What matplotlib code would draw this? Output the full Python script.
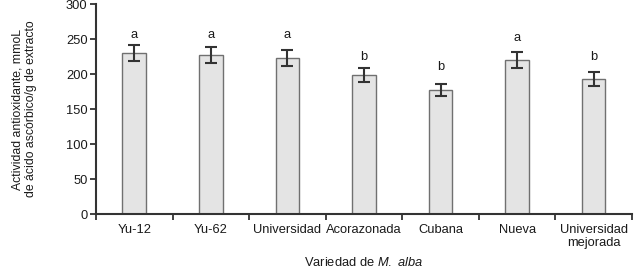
import matplotlib
matplotlib.use('Agg')
import matplotlib.pyplot as plt
import numpy as np

# Data
varieties = ['Yu-12', 'Yu-62', 'Universidad', 'Acorazonada', 'Cubana', 'Nueva',
             'Universidad\nmejorada']
activity = [230, 227, 223, 199, 177, 220, 193]
error = [12, 11, 11, 10, 9, 11, 10]
letters = ['a', 'a', 'a', 'b', 'b', 'a', 'b']
letter_y = [256, 256, 256, 225, 210, 252, 225]

plt.rcParams['font.family'] = ['Liberation Sans', 'DejaVu Sans']
plt.rcParams['mathtext.fontset'] = 'custom'
plt.rcParams['mathtext.rm'] = 'Liberation Sans'
plt.rcParams['mathtext.it'] = 'Liberation Sans:italic'

fs = 9.3
tc = '#1a1a1a'

fig = plt.figure(figsize=(6.37, 2.70), dpi=100)
ax = fig.add_axes([0.1507, 0.2074, 0.8413, 0.7776])

x = np.arange(len(varieties))
ax.bar(x, activity, width=0.31, color='#e4e4e4', edgecolor='#707070', linewidth=1.0,
       zorder=2)
ax.errorbar(x, activity, yerr=error, fmt='none', ecolor='#333333', elinewidth=1.5,
            capsize=4, capthick=1.5, zorder=3)

# Significance letters
for xi, ly, let in zip(x, letter_y, letters):
    ax.text(xi, ly, let, ha='center', va='center', fontsize=fs, color=tc)

ax.set_xlim(-0.5, len(varieties) - 0.5)
ax.set_ylim(0, 300)
ax.set_yticks(np.arange(0, 301, 50))

# Category labels centred, ticks at the boundaries
ax.set_xticks(x)
ax.set_xticklabels(varieties, fontsize=fs, color=tc, linespacing=1.1)
ax.tick_params(axis='x', which='major', length=0, pad=7)
ax.set_xticks(np.arange(-0.5, len(varieties)), minor=True)
ax.tick_params(axis='x', which='minor', length=4, width=1.3, color='#333333',
               direction='out')
ax.tick_params(axis='y', length=4, width=1.3, color='#333333', labelsize=fs,
               labelcolor=tc, pad=2)

for side in ['top', 'right']:
    ax.spines[side].set_visible(False)
for side in ['left', 'bottom']:
    ax.spines[side].set_color('#333333')
    ax.spines[side].set_linewidth(1.5)

ax.set_ylabel('Actividad antioxidante, mmoL\nde ácido ascórbico/g de extracto',
              fontsize=8.8, color=tc, labelpad=21, linespacing=1.15)
ax.set_xlabel('Variedad de $\\it{M.\\ alba}$', fontsize=fs, color=tc, labelpad=5)

fig.savefig('out.png', dpi=100)
